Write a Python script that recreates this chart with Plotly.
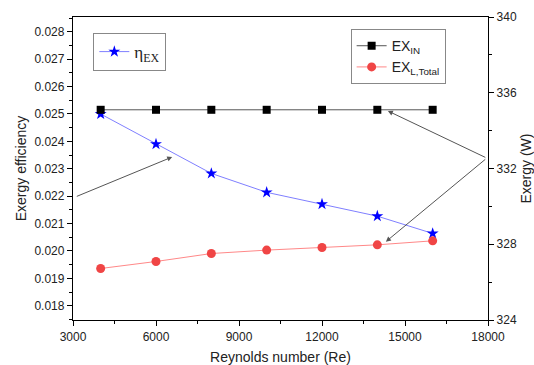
import plotly.graph_objects as go

# Reynolds numbers tested
reynolds = [4000, 6000, 8000, 10000, 12000, 14000, 16000]
# Exergy efficiency (left axis)
eta_ex = [0.02500, 0.02390, 0.02283, 0.02214, 0.02171, 0.02127, 0.02064]
# Exergy input and total exergy loss in W (right axis)
ex_in = [335.1, 335.1, 335.1, 335.1, 335.1, 335.1, 335.1]
ex_loss = [326.72, 327.09, 327.51, 327.69, 327.83, 327.97, 328.18]

SANS = "Liberation Sans, Arial, sans-serif"
SERIF = "Liberation Serif, Times New Roman, serif"

fig = go.Figure()

fig.add_trace(go.Scatter(
    x=reynolds, y=eta_ex, mode="lines+markers",
    name="η<sub>EX</sub>",
    line=dict(color="#7f7fff", width=1),
    marker=dict(symbol="star", size=9, color="#0000ff"),
    legend="legend", yaxis="y", showlegend=True,
))
fig.add_trace(go.Scatter(
    x=reynolds, y=ex_in, mode="lines+markers",
    name="EX<sub>IN</sub>",
    line=dict(color="#555555", width=1),
    marker=dict(symbol="square", size=8, color="#000000"),
    legend="legend2", yaxis="y2", showlegend=True,
))
fig.add_trace(go.Scatter(
    x=reynolds, y=ex_loss, mode="lines+markers",
    name="EX<sub>L,Total</sub>",
    line=dict(color="#ff8888", width=1),
    marker=dict(symbol="circle", size=9, color="#f04545"),
    legend="legend2", yaxis="y2", showlegend=True,
))

axis_common = dict(
    showline=True, linecolor="black", linewidth=1.3,
    ticks="outside", ticklen=5, tickwidth=1, tickcolor="black",
    showgrid=False, zeroline=False, automargin=False,
    tickfont=dict(family=SANS, size=12, color="#222"),
)

fig.update_layout(
    width=534, height=365,
    margin=dict(l=73, r=46, t=17, b=45),
    paper_bgcolor="white", plot_bgcolor="white",
    font=dict(family=SANS, color="#222"),
    showlegend=True,
    xaxis=dict(
        range=[3000, 18000], tick0=3000, dtick=3000, tickformat="d", mirror=True,
        minor=dict(dtick=1500, ticklen=3, ticks="outside", tickcolor="black"),
        title=dict(text="Reynolds number (Re)", font=dict(size=14), standoff=10),
        **axis_common,
    ),
    yaxis=dict(
        range=[0.01748, 0.02854], tick0=0.018, dtick=0.001, tickformat=".3f",
        minor=dict(dtick=0.0005, ticklen=3, ticks="outside", tickcolor="black"),
        title=dict(text="Exergy efficiency", font=dict(size=14), standoff=4),
        **axis_common,
    ),
    yaxis2=dict(
        range=[324, 340], tick0=324, dtick=4, overlaying="y", side="right",
        minor=dict(dtick=2, ticklen=3, ticks="outside", tickcolor="black"),
        title=dict(text="Exergy (W)", font=dict(size=14), standoff=8),
        **axis_common,
    ),
    legend=dict(
        x=0.049, y=0.947, xanchor="left", yanchor="top",
        bordercolor="#888", borderwidth=1, bgcolor="white",
        font=dict(family=SERIF, size=17, color="#222"),
        itemwidth=30, tracegroupgap=0,
    ),
    legend2=dict(
        x=0.669, y=0.96, xanchor="left", yanchor="top",
        bordercolor="#888", borderwidth=1, bgcolor="white",
        font=dict(family=SANS, size=14, color="#222"),
        itemwidth=30, tracegroupgap=0,
    ),
)

# Pointer arrows linking each series to its axis
arrows = [
    (3083, 0.02197, 6585, 0.02343),
    (17957, 0.02339, 14382, 0.02511),
    (17957, 0.02339, 14310, 0.02034),
]
for x0, y0, x1, y1 in arrows:
    fig.add_annotation(
        x=x1, y=y1, ax=x0, ay=y0, xref="x", yref="y", axref="x", ayref="y",
        showarrow=True, arrowhead=2, arrowsize=1, arrowwidth=1,
        arrowcolor="#555", text="",
    )

fig.write_html("out.html")
